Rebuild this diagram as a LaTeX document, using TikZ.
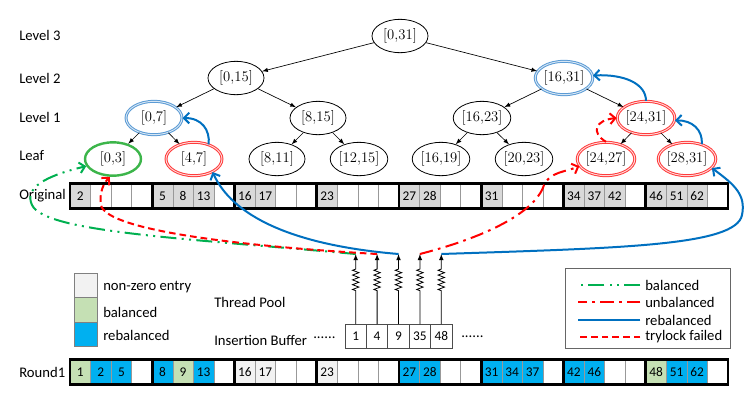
\documentclass[tikz,border=0pt]{standalone}
\usepackage{fontspec}
\newfontfamily\calibri{Carlito}
\usetikzlibrary{arrows.meta,shapes.geometric,decorations.pathmorphing}
\definecolor{balgreen}{HTML}{00B050}
\definecolor{rebblue}{HTML}{0070C0}
\definecolor{cellg}{HTML}{D9D9D9}
\definecolor{cellw}{HTML}{FFFFFF}
\definecolor{celll}{HTML}{F2F2F2}
\definecolor{cellb}{HTML}{C5E0B4}
\definecolor{cellr}{HTML}{00B0F0}
\definecolor{ringblue}{HTML}{5B9BD5}
\definecolor{ringred}{HTML}{FF3B3B}
\definecolor{ringgreen}{HTML}{3CB54A}

\begin{document}
\begin{tikzpicture}[x=0.75pt,y=-0.75pt,>={Straight Barb[length=4pt,width=8pt]},
    seg/.style={ellipse,draw=black,line width=0.6pt,minimum width=42pt,minimum height=25pt,inner sep=0pt,font=\fontsize{11}{13}\selectfont},
    blring/.style={draw=ringblue,double=ringblue!25,double distance=0.7pt,line width=0.75pt},
    rdring/.style={draw=ringred,double=ringred!20,double distance=0.7pt,line width=0.75pt},
    grring/.style={draw=ringgreen,line width=1.8pt},
    edge/.style={-latex,line width=0.5pt},
    lab/.style={font=\calibri\fontsize{11}{13}\selectfont,inner sep=0pt},
    cell/.style={draw=black!40,line width=0.4pt,minimum width=15.42pt,minimum height=18.75pt,inner sep=0pt,outer sep=0pt,font=\calibri\fontsize{10}{12}\selectfont},
    grp/.style={draw=black,line width=2pt},
    bufcell/.style={draw=black!70,line width=0.5pt,minimum width=16.05pt,minimum height=18pt,inner sep=0pt,outer sep=0pt,font=\calibri\fontsize{10}{12}\selectfont},
    key/.style={draw=black!50,line width=0.5pt,minimum width=17.25pt,minimum height=18.4pt,inner sep=0pt},
    spring/.style={-latex,line width=0.6pt,decorate,decoration={zigzag,amplitude=2.4pt,segment length=3.6pt,pre length=25pt,post length=10pt}},
    balline/.style={draw=balgreen,line width=1.5pt,dash pattern=on 12pt off 4pt on 1.5pt off 4pt on 1.5pt off 4pt},
    unbline/.style={draw=red,line width=1.5pt,dash pattern=on 10pt off 4pt on 2pt off 4pt},
    rebline/.style={draw=rebblue,line width=1.5pt},
    tryline/.style={draw=red,line width=1.5pt,dash pattern=on 5pt off 3pt}]
  \useasboundingbox (0,0) rectangle (748,393);

  % row labels
  \node[lab,anchor=west] (lv3) at (19,35) {Level 3};
  \node[lab,anchor=west] (lv2) at (19,78) {Level 2};
  \node[lab,anchor=west] (lv1) at (19,117) {Level 1};
  \node[lab,anchor=west] (lv0) at (19,156) {Leaf};
  \node[lab,anchor=west] (orig) at (19,196) {Original};
  \node[lab,anchor=west] (rnd) at (19,372) {Round1};

  % tree
  \node[seg] (n031) at (400,36) {[0,31]};
  \node[seg] (n015) at (236,78) {[0,15]};
  \node[seg,blring] (n1631) at (564,78) {[16,31]};
  \node[seg,blring] (n07) at (154,118) {[0,7]};
  \node[seg] (n815) at (318,118) {[8,15]};
  \node[seg] (n1623) at (482,118) {[16,23]};
  \node[seg,rdring] (n2431) at (646,118) {[24,31]};
  \node[seg,grring] (n03) at (113,159) {[0,3]};
  \node[seg,rdring] (n47) at (194,159) {[4,7]};
  \node[seg] (n811) at (277,159) {[8,11]};
  \node[seg] (n1215) at (359,159) {[12,15]};
  \node[seg] (n1619) at (441,159) {[16,19]};
  \node[seg] (n2023) at (524,159) {[20,23]};
  \node[seg,rdring] (n2427) at (606,159) {[24,27]};
  \node[seg,rdring] (n2831) at (687,159) {[28,31]};
  \foreach \a/\b in {n031/n015,n031/n1631,n015/n07,n015/n815,n1631/n1623,n1631/n2431,
      n07/n03,n07/n47,n815/n811,n815/n1215,n1623/n1619,n1623/n2023,n2431/n2427,n2431/n2831}
    \draw[edge] (\a) -- (\b);

  % arrays
  \foreach \v/\c [count=\i from 0] in {2/g,{}/w,{}/w,{}/w,5/g,8/g,13/g,{}/w,16/g,17/g,{}/w,{}/w,23/g,{}/w,{}/w,{}/w,
      27/g,28/g,{}/w,{}/w,31/g,{}/w,{}/w,{}/w,34/g,37/g,42/g,{}/w,46/g,51/g,62/g,{}/w}
    \node[cell,fill=cell\c] (o\i) at ({70+20.5625*(\i+0.5)},196) {\v};
  \foreach \v/\c [count=\i from 0] in {1/b,2/r,5/r,{}/w,8/r,9/b,13/r,{}/w,16/l,17/l,{}/w,{}/w,23/l,{}/w,{}/w,{}/w,
      27/r,28/r,{}/w,{}/w,31/r,34/r,37/r,{}/w,42/r,46/r,{}/w,{}/w,48/b,51/r,62/r,{}/w}
    \node[cell,fill=cell\c] (r\i) at ({70+20.5625*(\i+0.5)},372) {\v};
  \foreach \g [evaluate=\g as \a using int(4*\g), evaluate=\g as \b using int(4*\g+3)] in {0,...,7} {
    \draw[grp] (o\a.north west) rectangle (o\b.south east);
    \draw[grp] (r\a.north west) rectangle (r\b.south east);
  }

  % thread pool and insertion buffer
  \node[lab,anchor=west] (tp) at (214,302) {Thread Pool};
  \node[lab,anchor=west] (ib) at (214,340) {Insertion Buffer};
  \node[lab,anchor=west] (dl) at (313,338) {......};
  \foreach \v [count=\i] in {1,4,9,35,48} {
    \node[bufcell] (b\i) at ({345+21.4*(\i-0.5)},336) {\v};
    \coordinate (s\i) at ({345+21.4*(\i-0.5)},254);
    \draw[spring] (b\i.north) -- (s\i);
  }
  \node[lab,anchor=west] (dr) at (461,337) {......};

  % updates
  \draw[balline,->] (s1) .. controls (180,238) and (45,232) .. (32,205) .. controls (24,188) and (45,176) .. (n03.195);
  \draw[tryline,->] (s2) .. controls (220,245) and (105,228) .. (101,205) .. controls (99,192) and (104,183) .. (n03.-100);
  \draw[rebline,->] (s3) .. controls (290,245) and (232,215) .. (n47.-35);
  \draw[unbline,->] (s4) .. controls (505,232) and (538,205) .. (544,185) .. controls (550,172) and (565,172) .. (n2427.195);
  \draw[rebline,->] (s5) .. controls (620,248) and (736,246) .. (742,215) .. controls (746,195) and (735,185) .. (n2831.-20);
  \draw[rebline,->] (n47.45) .. controls (210,130) and (202,118) .. (n07.east);
  \draw[tryline,->] (n2427.north) .. controls (590,132) and (596,120) .. (n2431.west);
  \draw[rebline,->] (n2831.45) .. controls (703,130) and (692,120) .. (n2431.-5);
  \draw[rebline,->] (n2431.north) .. controls (646,84) and (625,74) .. (n1631.5);

  % legends
  \node[key,fill=celll] (q1) at (85.5,285.5) {};
  \node[key,fill=cellb] (q2) at (85.5,310) {};
  \node[key,fill=cellr] (q3) at (85.5,334.5) {};
  \node[lab,anchor=west] (t1) at (103,287) {non-zero entry};
  \node[lab,anchor=west] (t2) at (103,312) {balanced};
  \node[lab,anchor=west] (t3) at (103,335) {rebalanced};
  \node[draw=black!60,line width=0.5pt,minimum width=123.75pt,minimum height=60pt] (lgd) at (647.5,308) {};
  \node[lab,anchor=west] (k1) at (645,285) {balanced};
  \node[lab,anchor=west] (k2) at (645,302) {unbalanced};
  \node[lab,anchor=west] (k3) at (645,320) {rebalanced};
  \node[lab,anchor=west] (k4) at (645,337) {trylock failed};
  \draw[balline] ([xshift=-3.5pt]k1.west) -- ++(-62,0);
  \draw[unbline] ([xshift=-3.5pt]k2.west) -- ++(-62,0);
  \draw[rebline] ([xshift=-3.5pt]k3.west) -- ++(-62,0);
  \draw[tryline] ([xshift=-3.5pt]k4.west) -- ++(-62,0);
\end{tikzpicture}
\end{document}
